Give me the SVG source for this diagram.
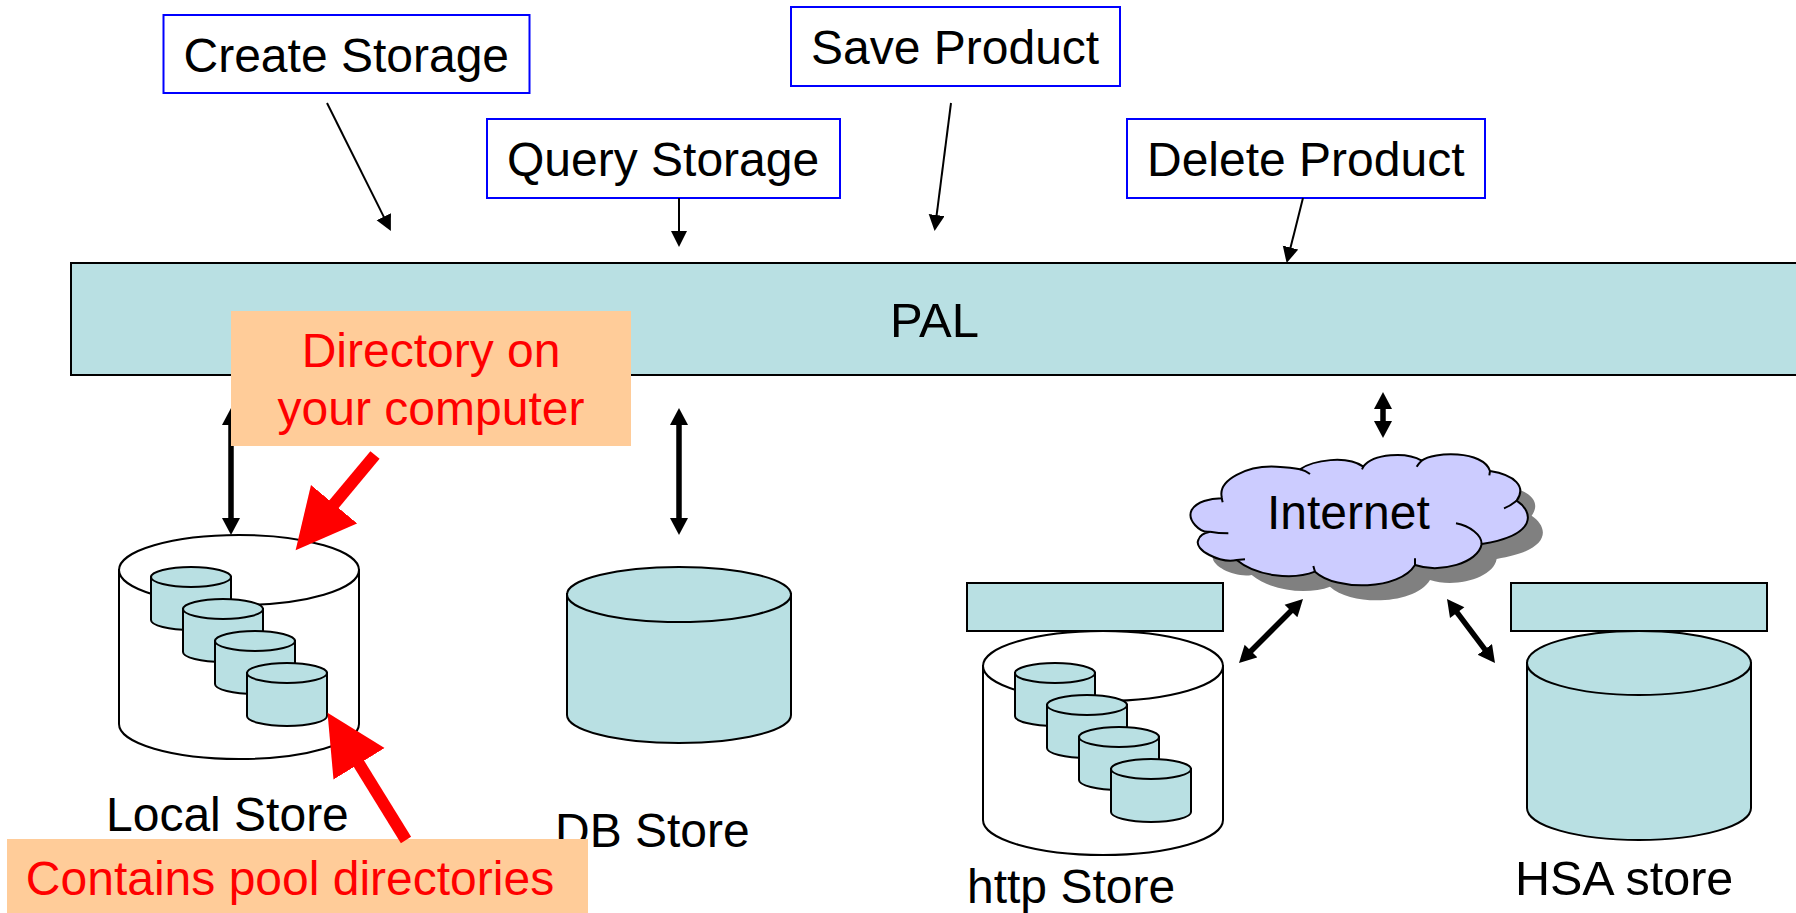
<svg xmlns="http://www.w3.org/2000/svg" xmlns:xlink="http://www.w3.org/1999/xlink" width="1796" height="913" viewBox="0 0 1796 913">
<style>
text{font-family:"Liberation Sans",Arial,sans-serif;font-size:48px;fill:#000}
.red{fill:#f00;text-anchor:middle}
.op{fill:#fff;stroke:#00f;stroke-width:2}
.teal{fill:#b9e0e3;stroke:#000;stroke-width:2}
.wh{fill:#fff;stroke:#000;stroke-width:2}
.note{fill:#fc9}
.thin{stroke:#000;stroke-width:2;fill:none;marker-end:url(#h1)}
.dbl{stroke:#000;stroke-width:5.500;fill:none;marker-start:url(#h2s);marker-end:url(#h2)}
.ra{stroke:#f00;stroke-width:12;fill:none;marker-end:url(#h3)}
</style>
<defs>
<marker id="h1" markerUnits="userSpaceOnUse" markerWidth="17" markerHeight="18" refX="1" refY="8" orient="auto"><path d="M0,0L16,8L0,16Z"/></marker>
<marker id="h2" markerUnits="userSpaceOnUse" markerWidth="18" markerHeight="20" refX="1" refY="9" orient="auto"><path d="M0,0L17,9L0,18Z"/></marker>
<marker id="h2s" markerUnits="userSpaceOnUse" markerWidth="18" markerHeight="20" refX="16" refY="9" orient="auto"><path d="M17,0L0,9L17,18Z"/></marker>
<marker id="h3" markerUnits="userSpaceOnUse" markerWidth="62" markerHeight="62" refX="1" refY="30" orient="auto"><path d="M0,0L60,30L0,60Z" fill="#f00"/></marker>
<g id="drum"><path class="teal" d="M151,577V620A40,10 0 0 0 231,620V577Z"/><ellipse class="teal" cx="191" cy="577" rx="40" ry="10"/></g>
<g id="store">
<path class="wh" d="M119,570V724A120,35 0 0 0 359,724V570Z"/><ellipse class="wh" cx="239" cy="570" rx="120" ry="35"/>
<use xlink:href="#drum" href="#drum"/><use xlink:href="#drum" href="#drum" x="32" y="32"/><use xlink:href="#drum" href="#drum" x="64" y="64"/><use xlink:href="#drum" href="#drum" x="96" y="96"/>
</g>
<path id="cloudShape" d="M215,380C205,330 290,285 380,290C405,291 430,293 450,298C490,270 590,255 640,290C670,250 770,245 815,272C850,245 1000,240 1020,303C1095,315 1130,350 1100,392C1150,425 1165,495 995,522C985,580 870,610 795,585C750,660 560,665 495,605C430,630 320,620 260,570C210,580 130,540 145,510C150,495 160,490 180,485C150,490 110,450 125,420C140,395 180,385 215,385Z"/>
</defs>
<g id="pal"><rect class="teal" x="71" y="263" width="1760" height="112"/><text x="890" y="337" style="font-size:49px">PAL</text></g>
<g id="create-storage"><rect class="op" x="163.500" y="15" width="366" height="78"/><text x="183.500" y="72">Create Storage</text></g>
<g id="query-storage"><rect class="op" x="487" y="119" width="353" height="79"/><text x="507" y="176">Query Storage</text></g>
<g id="save-product"><rect class="op" x="791" y="7" width="329" height="79"/><text x="811" y="64">Save Product</text></g>
<g id="delete-product"><rect class="op" x="1127" y="119" width="358" height="79"/><text x="1147" y="176">Delete Product</text></g>
<g id="local-store"><use xlink:href="#store" href="#store"/><text x="106" y="831">Local Store</text></g>
<g id="db-store"><path class="teal" d="M567,594V715A112,28 0 0 0 791,715V594Z"/><ellipse class="teal" cx="679" cy="594.500" rx="112" ry="27.500"/><text x="555" y="847">DB Store</text></g>
<g id="http-store"><rect class="teal" x="967" y="583" width="256" height="48"/><use xlink:href="#store" href="#store" x="864" y="96"/><text x="967" y="903">http Store</text></g>
<g id="hsa-store"><rect class="teal" x="1511" y="583" width="256" height="48"/><path class="teal" d="M1527,663V808A112,32 0 0 0 1751,808V663Z"/><ellipse class="teal" cx="1639" cy="663" rx="112" ry="32"/><text x="1515" y="895" style="font-size:48.500px">HSA store</text></g>
<g id="internet">
<g transform="translate(1150,370) scale(.33333)">
<use xlink:href="#cloudShape" href="#cloudShape" x="45" y="45" fill="#808080"/>
<use xlink:href="#cloudShape" href="#cloudShape" fill="#ccf" stroke="#000" stroke-width="6"/>
<path fill="none" stroke="#000" stroke-width="6" d="M450,298C462,301 472,306 480,312M640,290L636,298M815,272Q806,280 800,290M1020,303L1018,316M1100,392C1090,400 1075,410 1062,415M995,522C995,495 960,468 918,460M795,585L795,565M495,605L490,588M260,570L285,568M180,485Q205,490 235,490M215,385L218,397"/>
</g>
<text x="1267" y="529">Internet</text>
</g>
<g id="contains-note"><rect class="note" x="7" y="839" width="581" height="74"/><text class="red" x="290" y="895">Contains pool directories</text></g>
<g id="connectors">
<path class="thin" d="M327,103L384.200,217.600"/>
<path class="thin" d="M679,198V232"/>
<path class="thin" d="M951,103L936.500,216.100"/>
<path class="thin" d="M1303,198L1290.300,248.500"/>
<path class="dbl" d="M231,424V519"/>
<path class="dbl" d="M679,424V519"/>
<path class="dbl" d="M1383,408V422"/>
<path class="dbl" d="M1291.700,610.300L1250.300,651.700"/>
<path class="dbl" d="M1456.600,611.800L1485.400,650.200"/>
<path class="ra" d="M375,455L333.400,504.900"/>
<path class="ra" d="M406,840L358.500,763"/>
</g>
<g id="directory-note"><rect class="note" x="231" y="311" width="400" height="135"/><text class="red" x="431" y="367">Directory on</text><text class="red" x="431" y="425">your computer</text></g>
</svg>
